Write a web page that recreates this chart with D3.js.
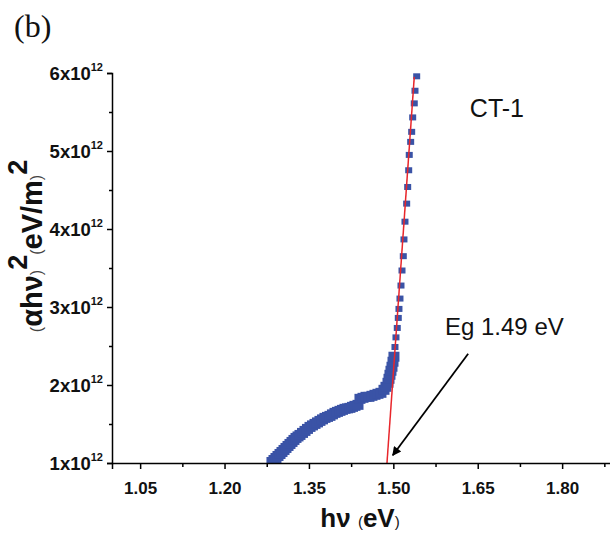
<!DOCTYPE html>
<html>
<head>
<meta charset="utf-8">
<script src="https://cdn.jsdelivr.net/npm/d3@7"></script>
<style>
  html, body { margin: 0; padding: 0; background: #fff; }
  svg { display: block; }
</style>
</head>
<body>
<svg id="chart" width="610" height="535"></svg>
<script>
// ---- data (photon energy in eV, (alpha h nu)^2 in units of 1e12 (eV/m)^2) ----
const photonEnergy = [
  1.2843,1.2879,1.2914,1.2950,1.2986,1.3021,1.3057,1.3092,1.3128,1.3163,1.3199,
  1.3234,1.3270,1.3306,1.3341,1.3386,1.3430,1.3474,
  1.3519,1.3563,1.3608,1.3652,1.3696,1.3741,1.3785,1.3830,1.3874,1.3918,1.3963,
  1.4007,1.4052,1.4096,1.4141,1.4185,1.4229,1.4274,1.4318,1.4372,
  1.4407,1.4461,1.4514,1.4567,1.4620,1.4674,1.4727,1.4780,1.4834,1.4869,
  1.4905,1.4923,1.4940,1.4958,1.4976,1.4994,1.5011,
  1.5029,1.5047,1.5070,1.5088,1.5100,1.5118,1.5136,1.5154,1.5177,1.5189,
  1.5207,1.5237,1.5255,1.5273,1.5283,1.5308,1.5326,1.5344,1.5372,1.5385,1.5415
];
const alphaHvSquared = [
  1.0129,1.0386,1.0643,1.0900,1.1157,1.1414,1.1671,1.1928,1.2185,1.2442,1.2699,
  1.2956,1.3213,1.3406,1.3599,1.3856,1.4113,1.4370,
  1.4627,1.4820,1.5013,1.5205,1.5398,1.5591,1.5784,1.5912,1.6041,1.6234,1.6427,
  1.6555,1.6684,1.6812,1.6941,1.7005,1.7069,1.7198,1.7326,1.7455,
  1.8226,1.8355,1.8483,1.8483,1.8612,1.8740,1.8869,1.8997,1.9383,1.9768,
  2.0283,2.0797,2.1311,2.1825,2.2339,2.2982,2.3625,
  2.4871,2.6105,2.7313,2.8598,2.9755,3.1080,3.2751,3.4679,3.6517,3.8663,
  4.0938,4.3252,4.5386,4.7532,4.9499,5.1170,5.2455,5.4306,5.6106,5.7725,5.9576
];
// linear fit (Tauc extrapolation)
const fitEnergy = [1.4887, 1.5372];
const fitValue  = [1.0, 5.95];
// tick values
const xTicks = [1.05, 1.20, 1.35, 1.50, 1.65, 1.80];
const xMinorTicks = [1.125, 1.275, 1.425, 1.575, 1.725, 1.875];
const yTicks = [1, 2, 3, 4, 5, 6];
const yMinorTicks = [1.5, 2.5, 3.5, 4.5, 5.5];
// annotations
const sampleLabel = "CT-1";
const bandGapLabel = "Eg 1.49 eV";
const arrowFrom = [1.633, 2.40];
const arrowTo = [1.499, 1.10];
const panelLabel = "(b)";

// ---- layout ----
const svg = d3.select("#chart");
const x = d3.scaleLinear().domain([1.0, 1.9]).range([112, 618.4]);
const y = d3.scaleLinear().domain([1, 6]).range([463, 73]);
const FONT = "'Liberation Sans', Arial, sans-serif";

svg.append("defs").append("clipPath").attr("id", "plotClip")
  .append("rect").attr("x", 112).attr("y", 0).attr("width", 510).attr("height", 463);
svg.select("defs").append("marker")
  .attr("id", "arrowHead").attr("viewBox", "0 0 10 10")
  .attr("refX", 9).attr("refY", 5)
  .attr("markerWidth", 11).attr("markerHeight", 9)
  .attr("markerUnits", "userSpaceOnUse")
  .attr("orient", "auto")
  .append("path").attr("d", "M0,0 L10,5 L0,10 Z").attr("fill", "#000");

// data points: the densely sampled part (below the edge) renders as a thick band
const pts = photonEnergy.map((e, i) => ({ e, v: alphaHvSquared[i] }));
const sizeW = d => d.v < 2.4 ? 11 : 7;
const sizeH = d => d.v < 2.4 ? 10 : 6;
svg.append("g").attr("clip-path", "url(#plotClip)")
  .selectAll("rect").data(pts).join("rect")
  .attr("x", d => x(d.e) - sizeW(d) / 2)
  .attr("y", d => y(d.v) - sizeH(d) / 2)
  .attr("width", sizeW).attr("height", sizeH)
  .attr("fill", "#3a53a6");

// fit line
const fitPts = fitEnergy.map((e, i) => [e, fitValue[i]]);
svg.append("path")
  .attr("clip-path", "url(#plotClip)")
  .attr("d", d3.line().x(d => x(d[0])).y(d => y(d[1]))(fitPts))
  .attr("stroke", "#e8262b").attr("stroke-width", 1.5).attr("fill", "none");

// x axis
const xAxis = svg.append("g").attr("transform", "translate(0,463)")
  .call(d3.axisBottom(x).tickValues(xTicks).tickSize(6).tickPadding(8)
    .tickFormat(d3.format(".2f")));
xAxis.select(".domain").attr("stroke-width", 1.5);
xAxis.selectAll(".tick line").attr("stroke-width", 1.5);
xAxis.selectAll(".tick text").attr("font-family", FONT).attr("font-weight", "bold")
  .attr("font-size", 17).attr("fill", "#111").attr("dy", "1.0em");
svg.append("g").attr("transform", "translate(0,463)")
  .call(d3.axisBottom(x).tickValues(xMinorTicks).tickSize(4).tickFormat(""))
  .call(g => g.select(".domain").remove())
  .selectAll(".tick line").attr("stroke-width", 1.5);

// y axis
const yAxis = svg.append("g").attr("transform", "translate(112,0)")
  .call(d3.axisLeft(y).tickValues(yTicks).tickSize(5).tickFormat(""));
yAxis.select(".domain").attr("stroke-width", 1.5);
yAxis.selectAll(".tick line").attr("stroke-width", 1.5);
svg.append("g").attr("transform", "translate(112,0)")
  .call(d3.axisLeft(y).tickValues(yMinorTicks).tickSize(3).tickFormat(""))
  .call(g => g.select(".domain").remove())
  .selectAll(".tick line").attr("stroke-width", 1.5);

const yLab = svg.append("g").selectAll("text").data(yTicks).join("text")
  .attr("x", 103).attr("y", d => y(d) + 7)
  .attr("text-anchor", "end")
  .attr("font-family", FONT).attr("font-weight", "bold").attr("font-size", 18.5)
  .attr("fill", "#111");
yLab.append("tspan").text(d => d + "x10");
yLab.append("tspan").attr("font-size", 11).attr("dy", -9).text("12");

// axis titles
const xt = svg.append("text").attr("x", 360).attr("y", 527)
  .attr("text-anchor", "middle").attr("font-family", FONT).attr("fill", "#111");
xt.append("tspan").attr("font-weight", "bold").attr("font-size", 26).text("hν ");
xt.append("tspan").attr("font-size", 15).text("(");
xt.append("tspan").attr("font-weight", "bold").attr("font-size", 26).text("eV");
xt.append("tspan").attr("font-size", 15).text(")");

const yt = svg.append("text").attr("transform", "translate(42,246) rotate(-90)")
  .attr("text-anchor", "middle").attr("font-family", FONT).attr("fill", "#111");
yt.append("tspan").attr("font-size", 16).attr("fill", "#444").text("(");
yt.append("tspan").attr("font-weight", "bold").attr("font-size", 29).text("αhν");
yt.append("tspan").attr("font-size", 16).attr("fill", "#444").text(")");
yt.append("tspan").attr("font-weight", "bold").attr("font-size", 27).attr("dy", -15).text("2");
yt.append("tspan").attr("font-size", 16).attr("fill", "#444").attr("dy", 15).text("(");
yt.append("tspan").attr("font-weight", "bold").attr("font-size", 29).text("eV/m");
yt.append("tspan").attr("font-size", 16).attr("fill", "#444").text(")");
yt.append("tspan").attr("font-weight", "bold").attr("font-size", 27).attr("dy", -15).text("2");

// annotations
svg.append("text").attr("x", x(1.636)).attr("y", y(5.434))
  .attr("font-family", FONT).attr("font-size", 25).attr("fill", "#111").text(sampleLabel);
svg.append("text").attr("x", x(1.5918)).attr("y", y(2.645))
  .attr("font-family", FONT).attr("font-size", 24).attr("fill", "#111").text(bandGapLabel);
svg.append("line")
  .attr("x1", x(arrowFrom[0])).attr("y1", y(arrowFrom[1]))
  .attr("x2", x(arrowTo[0])).attr("y2", y(arrowTo[1]))
  .attr("stroke", "#000").attr("stroke-width", 1.8)
  .attr("marker-end", "url(#arrowHead)");
svg.append("text").attr("x", 14).attr("y", 37)
  .attr("font-family", "'Liberation Serif', 'Times New Roman', serif")
  .attr("font-size", 32).attr("fill", "#111").text(panelLabel);
</script>
</body>
</html>
